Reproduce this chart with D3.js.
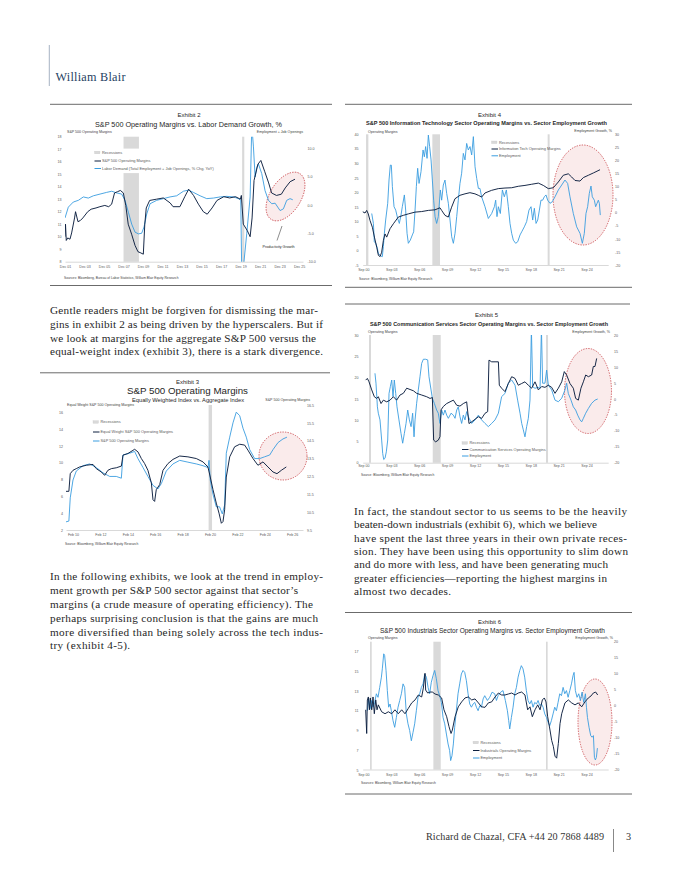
<!DOCTYPE html>
<html><head><meta charset="utf-8">
<script src="https://cdn.jsdelivr.net/npm/d3@7"></script>
<style>body{margin:0;background:#fff}svg{display:block}</style>
</head><body>
<svg id="page" width="680" height="880"></svg>
<script>
// ---------------- DATA ----------------
// Exhibit 2: S&P 500 operating margins (left, %) vs labor demand growth (right, % YoY)
const ex2Margins = [[2001.92,10.0],[2001.97,11.0],[2002.05,9.7],[2002.2,9.9],[2002.43,9.8],[2002.6,10.3],[2002.9,11.5],[2003.0,12.0],[2003.25,11.2],[2003.5,11.3],[2003.75,11.5],[2004.25,12.0],[2004.6,12.2],[2005.1,12.3],[2005.5,12.4],[2006.0,12.5],[2006.4,12.4],[2006.7,12.6],[2007.0,13.5],[2007.3,13.6],[2007.6,13.7],[2007.9,13.5],[2008.15,12.5],[2008.4,11.0],[2008.75,10.2],[2009.1,9.3],[2009.4,8.8],[2009.7,8.7],[2009.95,8.6],[2010.1,11.0],[2010.25,12.3],[2010.6,12.9],[2011.3,13.0],[2012.0,13.1],[2012.7,12.7],[2013.0,12.4],[2013.7,12.4],[2014.2,13.2],[2014.6,13.8],[2015.1,13.3],[2015.6,12.6],[2016.1,12.0],[2016.5,11.8],[2017.0,12.3],[2017.5,12.9],[2018.2,13.2],[2018.8,13.1],[2019.4,13.2],[2019.9,13.0],[2020.0,13.3],[2020.2,11.0],[2020.6,10.5],[2020.9,10.0],[2021.1,11.5],[2021.3,14.5],[2021.7,15.8],[2022.0,16.1],[2022.4,15.2],[2022.8,14.3],[2023.1,13.5],[2023.6,13.3],[2024.1,13.4],[2024.5,13.9],[2025.0,14.4],[2025.5,14.6]];
const ex2Labor = [[2001.92,-2.3],[2002.26,-0.4],[2002.77,0.5],[2003.29,0.8],[2003.8,1.4],[2004.31,1.2],[2004.83,1.6],[2005.51,1.9],[2006.19,2.2],[2006.71,2.4],[2007.22,2.1],[2007.73,1.9],[2008.07,0.8],[2008.42,-1.3],[2008.76,-3.4],[2009.1,-4.8],[2009.44,-5.1],[2009.78,-5.0],[2010.02,-3.9],[2010.3,-1.6],[2010.64,0.2],[2011.32,0.8],[2012.0,1.1],[2012.69,1.4],[2013.37,1.6],[2014.06,2.4],[2014.57,2.6],[2015.08,2.2],[2015.77,1.6],[2016.45,1.1],[2017.13,1.2],[2017.82,1.4],[2018.5,1.5],[2019.19,1.4],[2019.7,1.1],[2019.94,0.8],[2020.04,-12],[2020.21,-11],[2020.55,-5.1],[2020.9,1.4],[2021.07,14],[2021.24,10.2],[2021.41,4.9],[2021.58,6.6],[2021.75,7.2],[2022.09,5.5],[2022.43,2.5],[2022.78,0.8],[2023.12,0.2],[2023.46,0.3],[2023.97,-1.0],[2024.31,-0.7],[2024.65,0.8],[2024.99,1.1],[2025.27,0.9]];
const ex2Recessions = [[2007.92,2009.5],[2020.08,2020.3]];
const ex2TickYears = [2001.92,2003.92,2005.92,2007.92,2009.92,2011.92,2013.92,2015.92,2017.92,2019.92,2021.92,2023.92,2025.92];
const ex2TickLabels = ["Dec 01","Dec 03","Dec 05","Dec 07","Dec 09","Dec 11","Dec 13","Dec 15","Dec 17","Dec 19","Dec 21","Dec 23","Dec 25"];
const ex2LeftTicks = [8,9,10,11,12,13,14,15,16,17,18];
const ex2RightTicks = [-10,-5,0,5,10];

// Exhibit 3: equal weight (left) vs aggregate (right) operating margins
const ex3Equal = [[2009.56,6.6],[2009.8,6.6],[2009.9,8.7],[2010.1,9.1],[2010.34,9.3],[2010.59,9.5],[2011.07,9.7],[2011.56,9.8],[2011.8,9.3],[2012.17,8.9],[2012.41,8.5],[2012.65,9.1],[2012.9,9.3],[2013.26,9.4],[2013.63,9.6],[2013.75,10.9],[2014.11,11.1],[2014.6,11.6],[2014.84,11.3],[2015.09,10.5],[2015.33,9.9],[2015.57,9.1],[2015.82,7.6],[2015.94,5.6],[2016.06,5.4],[2016.18,6.8],[2016.43,7.4],[2016.67,9.1],[2017.03,9.9],[2017.4,10.4],[2017.89,10.8],[2018.49,10.7],[2019.1,10.5],[2019.59,10.1],[2019.95,9.5],[2020.12,8.3],[2020.32,6.8],[2020.56,5.2],[2020.76,4.0],[2020.93,2.8],[2021.05,3.0],[2021.17,4.4],[2021.29,8.3],[2021.54,10.7],[2021.9,11.9],[2022.27,12.2],[2022.63,12.1],[2022.87,11.5],[2023.24,10.5],[2023.6,9.7],[2023.97,10.1],[2024.33,9.5],[2024.7,8.9],[2024.99,8.7],[2025.31,9.1],[2025.67,9.5]];
const ex3Aggregate = [[2009.56,9.95],[2009.8,10.0],[2009.9,11.3],[2010.1,12.3],[2010.34,12.8],[2010.83,13.1],[2011.32,13.2],[2011.8,13.0],[2012.29,12.7],[2012.78,12.5],[2013.26,12.5],[2013.63,12.4],[2013.75,13.7],[2014.24,13.8],[2014.6,13.9],[2014.84,13.5],[2015.21,13.0],[2015.57,12.5],[2015.94,12.0],[2016.3,11.8],[2016.55,12.1],[2016.91,12.8],[2017.4,13.2],[2017.89,13.4],[2018.49,13.3],[2019.1,13.2],[2019.59,13.1],[2019.95,13.0],[2020.03,13.4],[2020.12,12.3],[2020.32,11.5],[2020.56,10.8],[2020.8,10.8],[2021.0,10.4],[2021.17,10.9],[2021.29,13.8],[2021.54,14.7],[2021.78,15.5],[2022.02,16.1],[2022.27,15.9],[2022.51,15.2],[2022.75,14.7],[2023.0,14.0],[2023.36,13.5],[2023.73,13.5],[2024.09,13.6],[2024.46,13.7],[2024.7,14.0],[2025.07,14.4],[2025.43,14.6],[2025.72,14.7]];
const ex3Recessions = [[2020.0,2020.25]];
const ex3TickYears = [2010.1,2012.1,2014.1,2016.1,2018.1,2020.1,2022.1,2024.1,2026.1];
const ex3TickLabels = ["Feb 10","Feb 12","Feb 14","Feb 16","Feb 18","Feb 20","Feb 22","Feb 24","Feb 26"];
const ex3LeftTicks = [2,4,6,8,10,12,14,16];
const ex3RightTicks = [9.5,10.5,11.5,12.5,13.5,14.5,15.5,16.5];

// Exhibits 4-6 share the Sep axis
const sepTickYears = [2000.67,2003.67,2006.67,2009.67,2012.67,2015.67,2018.67,2021.67,2024.67];
const sepTickLabels = ["Sep 00","Sep 03","Sep 06","Sep 09","Sep 12","Sep 15","Sep 18","Sep 21","Sep 24"];

// Exhibit 4: Information Technology
const ex4Margins = [[2000.56,13.4],[2000.85,12.9],[2001.03,13.8],[2001.2,12.6],[2001.39,10.3],[2001.64,8.0],[2001.86,4.6],[2002.11,1.1],[2002.29,-1.7],[2002.47,-2.1],[2002.64,-0.6],[2002.82,3.4],[2003.0,5.7],[2003.18,4.6],[2003.54,7.5],[2003.9,9.2],[2004.43,11.5],[2004.97,12.1],[2005.51,12.6],[2006.22,13.2],[2006.94,13.4],[2007.66,13.8],[2008.37,14.0],[2008.91,14.7],[2009.09,13.8],[2009.45,12.1],[2009.8,11.5],[2010.16,14.9],[2010.52,17.8],[2011.06,19.0],[2011.6,19.5],[2012.13,19.9],[2012.67,19.5],[2013.03,19.0],[2013.39,18.4],[2013.75,19.8],[2014.46,20.7],[2015.18,21.3],[2015.9,21.5],[2016.62,21.6],[2017.33,22.1],[2018.05,22.4],[2018.77,22.8],[2019.49,23.2],[2020.02,22.4],[2020.56,21.3],[2021.1,21.6],[2021.64,23.6],[2022.17,25.9],[2022.71,26.4],[2023.07,25.3],[2023.43,24.1],[2023.97,23.9],[2024.33,25.1],[2024.87,25.9],[2025.41,26.7],[2026.12,27.8]];
const ex4Employment = [[2001.57,-0.3],[2001.75,-4.1],[2001.85,-11.1],[2002.0,-11.7],[2002.18,-13.6],[2002.28,-15.6],[2002.57,-16.6],[2002.71,-16.8],[2002.82,-13.0],[2002.93,-7.9],[2003.07,-2.8],[2003.29,3.6],[2003.43,12.5],[2003.57,18.2],[2003.68,18.2],[2003.79,10.0],[2003.97,2.3],[2004.15,1.0],[2004.36,-2.2],[2004.54,-4.1],[2004.72,-0.9],[2004.86,2.3],[2005.08,6.8],[2005.22,1.0],[2005.37,-7.9],[2005.51,-11.7],[2005.72,-10.5],[2005.94,-8.5],[2006.08,-7.3],[2006.23,1.0],[2006.37,10.0],[2006.51,17.0],[2006.66,11.2],[2006.87,15.7],[2007.09,24.0],[2007.23,21.4],[2007.37,25.3],[2007.52,20.8],[2007.66,29.7],[2007.8,25.3],[2007.95,20.2],[2008.09,12.5],[2008.23,4.8],[2008.38,-1.5],[2008.55,-4.1],[2008.73,-1.5],[2008.95,8.7],[2009.09,4.8],[2009.27,10.6],[2009.45,12.5],[2009.63,7.4],[2009.81,3.6],[2009.99,-2.8],[2010.17,-9.2],[2010.35,-11.7],[2010.53,-7.9],[2010.71,-1.5],[2010.88,4.8],[2011.06,11.2],[2011.24,15.1],[2011.42,22.7],[2011.6,20.2],[2011.78,26.5],[2011.96,24.0],[2012.14,25.3],[2012.32,22.1],[2012.5,29.1],[2012.68,17.6],[2012.86,13.1],[2013.04,9.3],[2013.21,9.3],[2013.39,6.1],[2013.75,2.3],[2014.11,-2.2],[2014.47,-0.3],[2014.76,2.3],[2014.9,4.8],[2015.04,-1.5],[2015.19,2.3],[2015.4,-0.3],[2015.62,8.7],[2015.83,6.1],[2016.05,8.7],[2016.26,2.3],[2016.44,-4.1],[2016.62,-7.9],[2016.8,-10.5],[2017.05,-11.7],[2017.27,-11.1],[2017.52,-8.5],[2017.7,-7.3],[2017.98,-5.4],[2018.23,-3.4],[2018.48,1.0],[2018.7,2.3],[2018.88,-2.8],[2019.06,1.7],[2019.24,-4.1],[2019.42,-2.8],[2019.6,1.0],[2019.77,4.8],[2019.95,4.8],[2020.13,6.1],[2020.31,6.8],[2020.49,4.8],[2020.74,3.6],[2020.99,4.2],[2021.28,6.1],[2021.64,8.7],[2022.0,10.6],[2022.35,12.5],[2022.64,11.2],[2022.89,6.1],[2023.25,-0.3],[2023.61,-5.4],[2023.97,-7.9],[2024.22,-11.7],[2024.43,-7.9],[2024.61,-0.3],[2024.79,2.3],[2024.97,7.4],[2025.15,10.2],[2025.29,6.1],[2025.51,4.8],[2025.65,2.3],[2025.8,3.6],[2025.94,4.8],[2026.05,3.6],[2026.15,-0.9]];
const ex4Recessions = [[2000.96,2001.21],[2008.09,2008.91],[2020.49,2020.7]];
const ex4LeftTicks = [-5,0,5,10,15,20,25,30,35,40];
const ex4RightTicks = [-20,-15,-10,-5,0,5,10,15,20,25,30];

// Exhibit 5: Communication Services
const ex5Margins = [[2000.92,19.4],[2001.1,19.8],[2001.28,19.0],[2001.57,17.1],[2001.85,15.5],[2002.1,15.1],[2002.28,15.5],[2002.57,13.9],[2002.82,14.7],[2003.18,14.3],[2003.54,14.7],[2003.9,15.5],[2004.25,14.7],[2004.61,15.9],[2004.97,16.3],[2005.33,17.5],[2005.69,17.2],[2006.05,16.9],[2006.4,16.3],[2006.94,15.9],[2007.48,15.5],[2007.84,15.1],[2008.09,15.3],[2008.23,5.3],[2008.45,4.9],[2008.73,5.3],[2008.91,6.1],[2009.02,12.4],[2009.27,13.2],[2009.63,13.9],[2009.99,14.3],[2010.35,14.7],[2010.71,13.5],[2011.06,13.3],[2011.42,13.9],[2011.78,14.3],[2012.03,9.2],[2012.32,9.6],[2012.68,10.2],[2013.04,10.8],[2013.39,10.4],[2013.75,11.6],[2014.04,12.0],[2014.18,24.1],[2014.47,23.7],[2014.83,23.7],[2015.19,23.7],[2015.29,18.2],[2015.54,17.5],[2015.9,16.7],[2016.26,18.6],[2016.62,20.2],[2016.98,19.8],[2017.33,18.2],[2017.69,18.6],[2018.05,19.0],[2018.41,18.2],[2018.77,17.5],[2019.13,19.0],[2019.49,17.1],[2019.85,17.9],[2020.2,17.7],[2020.56,18.2],[2020.92,17.7],[2021.28,16.3],[2021.64,17.5],[2022.0,19.0],[2022.28,21.4],[2022.53,20.6],[2022.89,18.6],[2023.25,17.5],[2023.5,15.1],[2023.79,14.7],[2024.07,17.5],[2024.33,19.0],[2024.58,20.6],[2024.87,20.2],[2025.22,20.6],[2025.4,22.6],[2025.58,22.6],[2025.76,24.5]];
const ex5Employment = [[2001.92,8.0],[2002.03,4.9],[2002.18,-2.5],[2002.28,-4.5],[2002.46,-6.6],[2002.64,-12.9],[2002.75,-17.1],[2002.86,-19.0],[2003.0,-18.6],[2003.14,-16.6],[2003.29,-12.9],[2003.43,1.7],[2003.57,3.8],[2003.72,5.9],[2003.86,0.7],[2004.0,5.9],[2004.15,1.7],[2004.29,-2.5],[2004.5,-6.6],[2004.72,-10.8],[2004.9,-13.9],[2005.08,-10.8],[2005.26,-7.7],[2005.44,-3.5],[2005.62,-6.6],[2005.8,-8.7],[2005.97,-4.5],[2006.12,-11.9],[2006.23,-6.6],[2006.4,-1.4],[2006.58,2.8],[2006.76,6.9],[2006.94,11.1],[2007.12,12.4],[2007.37,12.4],[2007.59,12.2],[2007.73,6.9],[2007.95,2.8],[2008.09,0.2],[2008.3,-1.4],[2008.55,-3.5],[2008.73,-4.5],[2008.91,-7.7],[2009.09,-3.5],[2009.27,-5.1],[2009.45,-3.5],[2009.63,-5.1],[2009.81,-6.1],[2010.1,-4.5],[2010.35,-5.1],[2010.53,-6.1],[2010.71,-3.5],[2010.88,-2.5],[2011.06,-5.6],[2011.24,-7.7],[2011.42,-5.1],[2011.6,-6.6],[2011.78,-4.0],[2011.96,-5.6],[2012.32,-7.7],[2012.68,-6.6],[2013.04,-5.1],[2013.39,-6.6],[2013.75,-7.7],[2014.11,-8.7],[2014.47,-7.7],[2014.83,-6.6],[2015.19,-4.5],[2015.54,0.7],[2015.9,1.7],[2016.26,4.9],[2016.62,5.9],[2016.98,4.3],[2017.26,-0.4],[2017.52,-4.5],[2017.7,-7.7],[2017.87,-9.7],[2018.05,-11.9],[2018.23,-8.7],[2018.41,-6.1],[2018.59,-0.4],[2018.74,22],[2018.88,3.8],[2019.13,3.3],[2019.42,3.6],[2019.67,3.3],[2019.82,22],[2019.95,4.9],[2020.2,4.9],[2020.38,9.0],[2020.56,4.3],[2020.92,2.8],[2021.28,-0.4],[2021.64,-0.9],[2022.0,0.2],[2022.35,2.8],[2022.53,4.9],[2022.71,1.7],[2023.0,-0.4],[2023.25,-2.5],[2023.5,-3.5],[2023.72,-5.1],[2023.97,-6.6],[2024.15,-7.2],[2024.33,-6.1],[2024.58,-4.5],[2024.87,-3.0],[2025.22,-1.4],[2025.58,-0.4],[2025.87,-0.05]];
const ex5Recessions = [[2001.28,2001.49],[2008.13,2008.99],[2020.31,2020.53]];
const ex5LeftTicks = [0,5,10,15,20,25,30];
const ex5RightTicks = [-20,-15,-10,-5,0,5,10,15,20];

// Exhibit 6: Industrials
const ex6Margins = [[2000.92,11.1],[2001.03,8.7],[2001.1,12.1],[2001.21,12.4],[2001.32,11.1],[2001.42,12.3],[2001.57,11.1],[2001.71,12.4],[2001.85,10.7],[2002.0,12.1],[2002.14,11.1],[2002.28,11.6],[2002.64,10.9],[2003.0,10.7],[2003.36,10.9],[2003.72,10.7],[2004.07,11.1],[2004.43,10.7],[2004.79,11.1],[2005.15,10.7],[2005.51,11.25],[2005.87,11.8],[2006.23,12.1],[2006.58,12.6],[2006.94,12.4],[2007.12,13.3],[2007.3,14.8],[2007.37,13.1],[2007.59,12.8],[2007.84,12.9],[2008.09,12.9],[2008.38,12.7],[2008.73,12.6],[2009.09,12.3],[2009.34,11.1],[2009.63,10.4],[2009.88,9.4],[2010.1,8.7],[2010.24,9.05],[2010.53,10.4],[2010.88,11.4],[2011.24,11.9],[2011.6,12.3],[2011.96,12.4],[2012.32,12.1],[2012.68,12.2],[2013.04,11.8],[2013.39,11.4],[2013.75,11.35],[2014.11,11.8],[2014.47,11.9],[2014.83,12.4],[2015.19,12.8],[2015.54,12.6],[2015.9,12.6],[2016.26,12.7],[2016.62,12.8],[2016.98,12.6],[2017.33,12.8],[2017.69,12.9],[2018.05,12.6],[2018.34,11.1],[2018.59,11.4],[2018.84,10.4],[2019.13,11.1],[2019.42,11.6],[2019.67,11.1],[2019.92,12.1],[2020.13,12.3],[2020.31,11.9],[2020.49,10.4],[2020.74,9.05],[2020.92,8.0],[2021.1,7.4],[2021.28,6.4],[2021.46,6.2],[2021.64,7.7],[2021.82,9.7],[2022.0,10.7],[2022.35,11.8],[2022.71,12.1],[2023.07,11.8],[2023.43,11.6],[2023.79,11.8],[2024.15,11.4],[2024.5,11.9],[2024.86,12.3],[2025.15,12.5],[2025.4,12.8],[2025.65,12.9],[2025.87,12.6]];
const ex6Employment = [[2001.1,-1.6],[2001.24,2.1],[2001.39,-1.0],[2001.53,1.6],[2001.71,-0.5],[2001.89,1.0],[2002.07,3.7],[2002.25,2.6],[2002.43,5.7],[2002.61,8.9],[2002.71,11.5],[2002.86,16.2],[2002.96,15.7],[2003.11,11.0],[2003.25,4.7],[2003.39,-0.5],[2003.54,0.5],[2003.68,-1.6],[2003.86,-4.7],[2004.04,-6.8],[2004.22,-3.7],[2004.4,-0.5],[2004.58,1.6],[2004.76,3.7],[2004.94,6.8],[2005.11,5.7],[2005.29,-2.6],[2005.47,-5.7],[2005.65,-7.8],[2005.83,-11.0],[2006.01,-8.4],[2006.19,-5.7],[2006.37,-1.6],[2006.55,2.6],[2006.73,3.7],[2006.91,5.7],[2007.09,6.8],[2007.27,9.9],[2007.45,8.9],[2007.63,5.7],[2007.8,3.7],[2007.98,7.3],[2008.16,9.4],[2008.34,11.0],[2008.52,8.4],[2008.7,4.7],[2008.88,3.1],[2009.06,1.0],[2009.24,-3.7],[2009.42,-5.7],[2009.6,-8.9],[2009.78,-12.0],[2009.95,-14.1],[2010.06,-17.2],[2010.2,-15.7],[2010.35,-12.0],[2010.49,-6.8],[2010.67,-1.6],[2010.85,3.7],[2011.03,6.8],[2011.21,9.9],[2011.39,11.0],[2011.57,10.4],[2011.75,7.8],[2011.93,3.7],[2012.11,0.5],[2012.29,-0.5],[2012.47,0.5],[2012.65,1.0],[2012.83,-0.5],[2013.01,-1.6],[2013.19,0.0],[2013.37,-0.5],[2013.55,2.1],[2013.72,3.1],[2014.01,1.6],[2014.26,2.6],[2014.51,4.2],[2014.8,3.7],[2014.98,1.6],[2015.16,3.1],[2015.44,4.2],[2015.69,4.7],[2015.94,1.6],[2016.16,-1.6],[2016.3,-4.7],[2016.41,-7.3],[2016.59,-3.7],[2016.77,-0.5],[2016.95,3.7],[2017.13,5.7],[2017.31,8.9],[2017.49,11.0],[2017.66,12.5],[2017.84,11.5],[2018.02,8.9],[2018.2,4.7],[2018.38,1.6],[2018.56,0.5],[2018.74,1.6],[2018.92,-0.5],[2019.1,1.0],[2019.28,0.5],[2019.46,1.6],[2019.64,0.0],[2019.82,0.5],[2020.0,-0.5],[2020.18,-2.6],[2020.36,-3.7],[2020.54,-5.2],[2020.71,-6.3],[2020.89,-4.7],[2021.07,-2.6],[2021.25,-0.5],[2021.43,-1.6],[2021.61,1.0],[2021.79,3.7],[2021.97,3.1],[2022.15,5.7],[2022.33,3.7],[2022.51,4.7],[2022.69,2.6],[2022.87,4.7],[2023.05,6.8],[2023.22,9.4],[2023.33,10.4],[2023.47,4.7],[2023.65,2.6],[2023.83,3.7],[2024.01,1.6],[2024.19,4.2],[2024.37,1.0],[2024.55,3.7],[2024.66,-0.5],[2024.77,-3.7],[2024.94,-6.8],[2025.12,-9.4],[2025.27,-9.9],[2025.41,-9.4],[2025.52,-16.2],[2025.62,-17.0],[2025.73,-16.2],[2025.84,-13.3]];
const ex6Recessions = [[2001.39,2001.57],[2008.2,2008.99],[2020.31,2020.49]];
const ex6LeftTicks = [5,7,9,11,13,15,17];
const ex6RightTicks = [-20,-15,-10,-5,0,5,10,15,20];

// ---------------- DRAWING ----------------
const DARK = "#0c1f3f", LIGHT = "#3a9de0", REC = "#d9d9d9", LBL = "#595959";
const SANS = "'Liberation Sans', Arial, sans-serif";
const SERIF = "'Liberation Serif', 'Times New Roman', serif";
const svg = d3.select("#page");
const defs = svg.append("defs");

function txt(g, x, y, s, o) {
  o = o || {};
  const t = g.append("text").attr("x", x).attr("y", y).text(s)
    .attr("font-family", o.family || SANS).attr("font-size", o.size || 4)
    .attr("fill", o.fill || "#262626").attr("text-anchor", o.anchor || "start");
  if (o.weight) t.attr("font-weight", o.weight);
  if (o.len) t.attr("textLength", o.len).attr("lengthAdjust", o.adjust || "spacingAndGlyphs");
  return t;
}
function rule(x1, x2, y) {
  svg.append("line").attr("x1", x1).attr("x2", x2).attr("y1", y).attr("y2", y)
    .attr("stroke", "#5a5a5a").attr("stroke-width", 0.9);
}

function chart(o) {
  const g = svg.append("g");
  const x = d3.scaleLinear().domain(o.xDomain).range([o.left, o.right]);
  const yL = d3.scaleLinear().domain(o.yLDomain).range(o.yLRange);
  const yR = d3.scaleLinear().domain(o.yRDomain).range(o.yRRange);
  const cid = "clip" + o.id;
  defs.append("clipPath").attr("id", cid).append("rect")
    .attr("x", o.left).attr("y", o.top).attr("width", o.right - o.left).attr("height", o.bottom - o.top);

  // recession bands
  g.append("g").selectAll("rect").data(o.recessions).join("rect")
    .attr("x", d => x(d[0])).attr("width", d => Math.max(1.2, x(d[1]) - x(d[0])))
    .attr("y", o.top).attr("height", o.bottom - o.top).attr("fill", REC);

  // highlight ellipse
  if (o.ellipse) {
    const e = o.ellipse;
    g.append("ellipse").attr("cx", e.cx).attr("cy", e.cy).attr("rx", e.rx).attr("ry", e.ry)
      .attr("transform", e.rot ? `rotate(${e.rot},${e.cx},${e.cy})` : null)
      .attr("fill", "rgba(238,190,190,0.30)").attr("stroke", "#c0262d")
      .attr("stroke-width", 0.7).attr("stroke-dasharray", "1.4,1.2");
  }

  // axes
  const fs = 3.6;
  const xa = d3.axisBottom(x).tickValues(o.xTicks).tickFormat((d, i) => o.xLabels[i])
    .tickSize(0).tickPadding(o.xLabelY - o.bottom - 0.71 * fs);
  const gx = g.append("g").attr("transform", `translate(0,${o.bottom})`).call(xa);
  gx.select(".domain").attr("stroke", "#bfbfbf").attr("stroke-width", 0.6);
  const yla = d3.axisLeft(yL).tickValues(o.yLTicks).tickFormat(o.yLFormat || (d => String(d)))
    .tickSize(0).tickPadding(o.left - o.yLLabelX);
  const gyl = g.append("g").attr("transform", `translate(${o.left},0)`).call(yla);
  const yra = d3.axisRight(yR).tickValues(o.yRTicks).tickFormat(o.yRFormat || (d => String(d)))
    .tickSize(0).tickPadding(o.yRLabelX - o.right);
  const gyr = g.append("g").attr("transform", `translate(${o.right},0)`).call(yra);
  gyl.select(".domain").remove(); gyr.select(".domain").remove();
  [gx, gyl, gyr].forEach(a => a.selectAll("text").attr("font-size", fs).attr("font-family", SANS).attr("fill", LBL));

  // series
  const lineL = d3.line().x(d => x(d[0])).y(d => yL(d[1]));
  const lineR = d3.line().x(d => x(d[0])).y(d => yR(d[1]));
  const lg = g.append("g").attr("clip-path", `url(#${cid})`);
  lg.append("path").datum(o.rightSeries).attr("d", lineR).attr("fill", "none")
    .attr("stroke", LIGHT).attr("stroke-width", 0.9).attr("stroke-linejoin", "round");
  lg.append("path").datum(o.leftSeries).attr("d", lineL).attr("fill", "none")
    .attr("stroke", DARK).attr("stroke-width", 0.95).attr("stroke-linejoin", "round");

  // axis titles
  txt(g, o.yLTitle.x, o.yLTitle.y, o.yLTitle.t, {size: 3.6, fill: "#404040"});
  txt(g, o.yRTitle.x, o.yRTitle.y, o.yRTitle.t, {size: 3.6, fill: "#404040", anchor: "end"});

  // legend
  const L = o.legend;
  const lgd = g.append("g");
  if (L.bg) lgd.append("rect").attr("x", L.bg[0]).attr("y", L.bg[1]).attr("width", L.bg[2]).attr("height", L.bg[3]).attr("fill", "#fff");
  L.items.forEach((it, i) => {
    const yy = L.ys[i];
    if (it.type === "rect") {
      lgd.append("rect").attr("x", L.x).attr("y", yy - 1.3).attr("width", 5.5).attr("height", 2.6)
        .attr("fill", REC).attr("stroke", "#c8c8c8").attr("stroke-width", 0.3);
    } else {
      lgd.append("line").attr("x1", L.x).attr("x2", L.x + 6.5).attr("y1", yy).attr("y2", yy)
        .attr("stroke", it.color).attr("stroke-width", 1);
    }
    txt(lgd, L.x + 7.5, yy + 1.4, it.label, {size: 3.9, fill: LBL});
  });
  return {g, x, yL, yR};
}

// ---------- Header ----------
svg.append("line").attr("x1", 49.3).attr("x2", 49.3).attr("y1", 45).attr("y2", 86)
  .attr("stroke", "#8fa0b4").attr("stroke-width", 0.8);
txt(svg, 55.5, 80.5, "William Blair", {family: SERIF, size: 12.2, fill: "#1f3f63", len: 70, adjust: "spacing"});

// ---------- Exhibit 2 ----------
rule(50, 332, 104.3); rule(50, 332, 285.5);
txt(svg, 189, 116.5, "Exhibit 2", {size: 6, anchor: "middle"});
txt(svg, 188.5, 126.8, "S&P 500 Operating Margins vs. Labor Demand Growth, %", {size: 7.6, anchor: "middle", len: 187});
const c2 = chart({
  id: 2, left: 65, right: 303, top: 136.7, bottom: 261.7,
  xDomain: [2001.92, 2026.32], xTicks: ex2TickYears, xLabels: ex2TickLabels, xLabelY: 267.8,
  yLDomain: [8, 18], yLRange: [261.7, 136.7], yLTicks: ex2LeftTicks, yLLabelX: 61.5,
  yRDomain: [-10, 12], yRRange: [261.7, 136.7], yRTicks: ex2RightTicks, yRLabelX: 307.5,
  yRFormat: d => d.toFixed(1),
  recessions: ex2Recessions, leftSeries: ex2Margins, rightSeries: ex2Labor,
  ellipse: {cx: 285.5, cy: 196.5, rx: 15.5, ry: 27, rot: 32},
  yLTitle: {x: 67, y: 133, t: "S&P 500 Operating Margins"},
  yRTitle: {x: 303, y: 133, t: "Employment + Job Openings"},
  legend: {x: 94.5, ys: [152.5, 161, 168.5], bg: [92, 148.6, 126, 24.5], items: [
    {type: "rect", label: "Recessions"},
    {type: "line", color: DARK, label: "S&P 500 Operating Margins"},
    {type: "line", color: LIGHT, label: "Labor Demand (Total Employment + Job Openings, % Chg. YoY)"}]}
});
svg.append("line").attr("x1", 277).attr("y1", 240.5).attr("x2", 282).attr("y2", 226)
  .attr("stroke", "#404040").attr("stroke-width", 0.6);
txt(svg, 278.5, 247.5, "Productivity Growth", {size: 3.7, anchor: "middle", fill: "#262626"});
txt(svg, 64, 278.5, "Sources: Bloomberg, Bureau of Labor Statistics, William Blair Equity Research", {size: 3.3, fill: "#404040"});

// ---------- Exhibit 4 ----------
rule(345, 632, 104.3); rule(345, 632, 287.3);
txt(svg, 489.5, 116.5, "Exhibit 4", {size: 6, anchor: "middle"});
txt(svg, 486.5, 125.3, "S&P 500 Information Technology Sector Operating Margins vs. Sector Employment Growth", {size: 6, weight: "bold", anchor: "middle", len: 241});
chart({
  id: 4, left: 362.7, right: 608.2, top: 134.3, bottom: 265,
  xDomain: [2000.6, 2027.0], xTicks: sepTickYears, xLabels: sepTickLabels, xLabelY: 270.8,
  yLDomain: [-5, 40], yLRange: [265, 134.3], yLTicks: ex4LeftTicks, yLLabelX: 358.5,
  yRDomain: [-20, 30], yRRange: [265, 134.3], yRTicks: ex4RightTicks, yRLabelX: 615,
  recessions: ex4Recessions, leftSeries: ex4Margins, rightSeries: ex4Employment,
  ellipse: {cx: 583, cy: 195, rx: 30, ry: 50},
  yLTitle: {x: 368, y: 132.5, t: "Operating Margins"},
  yRTitle: {x: 612, y: 132, t: "Employment Growth, %"},
  legend: {x: 491.5, ys: [142.3, 149, 155.8], items: [
    {type: "rect", label: "Recessions"},
    {type: "line", color: DARK, label: "Information Tech Operating Margins"},
    {type: "line", color: LIGHT, label: "Employment"}]}
});
txt(svg, 359, 279.5, "Source: Bloomberg, William Blair Equity Research", {size: 3.3, fill: "#404040"});

// ---------- Exhibit 3 ----------
rule(40, 330, 372.8);
txt(svg, 187.5, 384.2, "Exhibit 3", {size: 6, anchor: "middle"});
txt(svg, 187.5, 394.3, "S&P 500 Operating Margins", {size: 8.6, anchor: "middle", len: 121});
txt(svg, 188, 401.5, "Equally Weighted Index vs. Aggregate Index", {size: 6.1, anchor: "middle", len: 112});
chart({
  id: 3, left: 66, right: 303, top: 405, bottom: 530,
  xDomain: [2009.59, 2026.89], xTicks: ex3TickYears, xLabels: ex3TickLabels, xLabelY: 536,
  yLDomain: [2, 16], yLRange: [530, 412.3], yLTicks: ex3LeftTicks, yLLabelX: 63,
  yRDomain: [9.5, 16.5], yRRange: [530, 405], yRTicks: ex3RightTicks, yRLabelX: 307,
  yRFormat: d => d.toFixed(1),
  recessions: ex3Recessions, leftSeries: ex3Equal, rightSeries: ex3Aggregate,
  ellipse: {cx: 283, cy: 456, rx: 24, ry: 24},
  yLTitle: {x: 67, y: 405.5, t: "Equal Weight S&P 500 Operating Margins"},
  yRTitle: {x: 310, y: 400.5, t: "S&P 500 Operating Margins"},
  legend: {x: 93, ys: [422, 432, 441], items: [
    {type: "rect", label: "Recessions"},
    {type: "line", color: DARK, label: "Equal Weight S&P 500 Operating Margins"},
    {type: "line", color: LIGHT, label: "S&P 500 Operating Margins"}]}
});
txt(svg, 65, 544.5, "Source: Bloomberg, William Blair Equity Research", {size: 3.3, fill: "#404040"});

// ---------- Exhibit 5 ----------
rule(345, 630, 304);
txt(svg, 486.5, 316.5, "Exhibit 5", {size: 6, anchor: "middle"});
txt(svg, 489, 325.8, "S&P 500 Communication Services Sector Operating Margins vs. Sector Employment Growth", {size: 6, weight: "bold", anchor: "middle", len: 238});
chart({
  id: 5, left: 362.7, right: 608.2, top: 335, bottom: 462.7,
  xDomain: [2000.6, 2027.0], xTicks: sepTickYears, xLabels: sepTickLabels, xLabelY: 467,
  yLDomain: [0, 30], yLRange: [462.7, 335], yLTicks: ex5LeftTicks, yLLabelX: 358.5,
  yRDomain: [-20, 20], yRRange: [462.7, 335], yRTicks: ex5RightTicks, yRLabelX: 614,
  recessions: ex5Recessions, leftSeries: ex5Margins, rightSeries: ex5Employment,
  ellipse: {cx: 588, cy: 391, rx: 23.5, ry: 42.5},
  yLTitle: {x: 368, y: 333, t: "Operating Margins"},
  yRTitle: {x: 610, y: 333, t: "Employment Growth, %"},
  legend: {x: 462, ys: [443, 449.5, 456], items: [
    {type: "rect", label: "Recessions"},
    {type: "line", color: DARK, label: "Communication Services Operating Margins"},
    {type: "line", color: LIGHT, label: "Employment"}]}
});
txt(svg, 361, 475.5, "Source: Bloomberg, William Blair Equity Research", {size: 3.3, fill: "#404040"});

// ---------- Exhibit 6 ----------
rule(345, 632, 612.5); rule(345, 632, 794);
txt(svg, 489.5, 624, "Exhibit 6", {size: 6, anchor: "middle"});
txt(svg, 492.5, 633.3, "S&P 500 Industrials Sector Operating Margins vs. Sector Employment Growth", {size: 6.6, anchor: "middle", len: 225});
chart({
  id: 6, left: 362.7, right: 608.2, top: 641.7, bottom: 769.5,
  xDomain: [2000.6, 2027.0], xTicks: sepTickYears, xLabels: sepTickLabels, xLabelY: 776,
  yLDomain: [5, 18], yLRange: [770, 641.7], yLTicks: ex6LeftTicks, yLLabelX: 358.5,
  yRDomain: [-20, 20], yRRange: [769.5, 641.7], yRTicks: ex6RightTicks, yRLabelX: 614,
  recessions: ex6Recessions, leftSeries: ex6Margins, rightSeries: ex6Employment,
  ellipse: {cx: 595, cy: 722, rx: 17, ry: 43},
  yLTitle: {x: 368, y: 638.5, t: "Operating Margins"},
  yRTitle: {x: 613, y: 638.5, t: "Employment Growth, %"},
  legend: {x: 473, ys: [742.5, 750.5, 758], items: [
    {type: "rect", label: "Recessions"},
    {type: "line", color: DARK, label: "Industrials Operating Margins"},
    {type: "line", color: LIGHT, label: "Employment"}]}
});
txt(svg, 361, 783.5, "Sources: Bloomberg, William Blair Equity Research", {size: 3.3, fill: "#404040"});

// ---------- Body text ----------
function para(x, lines) {
  lines.forEach(l => txt(svg, x, l[1], l[0], {family: SERIF, size: 11.2, fill: "#262626", len: l[2], adjust: "spacing"}));
}
para(50, [
  ["Gentle readers might be forgiven for dismissing the mar-", 313.8, 268],
  ["gins in exhibit 2 as being driven by the hyperscalers. But if", 327.9, 273],
  ["we look at margins for the aggregate S&P 500 versus the", 341.8, 266],
  ["equal-weight index (exhibit 3), there is a stark divergence.", 355.4, 273]
]);
para(50, [
  ["In the following exhibits, we look at the trend in employ-", 580.3, 273],
  ["ment growth per S&P 500 sector against that sector\u2019s", 594.3, 248],
  ["margins (a crude measure of operating efficiency). The", 608, 263],
  ["perhaps surprising conclusion is that the gains are much", 621.9, 268],
  ["more diversified than being solely across the tech indus-", 635.9, 273],
  ["try (exhibit 4-5).", 649.4, 80]
]);
para(354, [
  ["In fact, the standout sector to us seems to be the heavily", 514.6, 273],
  ["beaten-down industrials (exhibit 6), which we believe", 528.1, 243],
  ["have spent the last three years in their own private reces-", 541.6, 273],
  ["sion. They have been using this opportunity to slim down", 554.8, 274],
  ["and do more with less, and have been generating much", 568.2, 254],
  ["greater efficiencies\u2014reporting the highest margins in", 581.6, 253],
  ["almost two decades.", 595.1, 97]
]);

// ---------- Footer ----------
txt(svg, 604, 839.5, "Richard de Chazal, CFA  +44 20 7868 4489", {family: SERIF, size: 10.2, fill: "#333", anchor: "end", len: 178, adjust: "spacing"});
svg.append("line").attr("x1", 613.5).attr("x2", 613.5).attr("y1", 829).attr("y2", 852).attr("stroke", "#555").attr("stroke-width", 0.7);
txt(svg, 626, 839.5, "3", {family: SERIF, size: 10.2, fill: "#333"});
</script>
</body></html>
